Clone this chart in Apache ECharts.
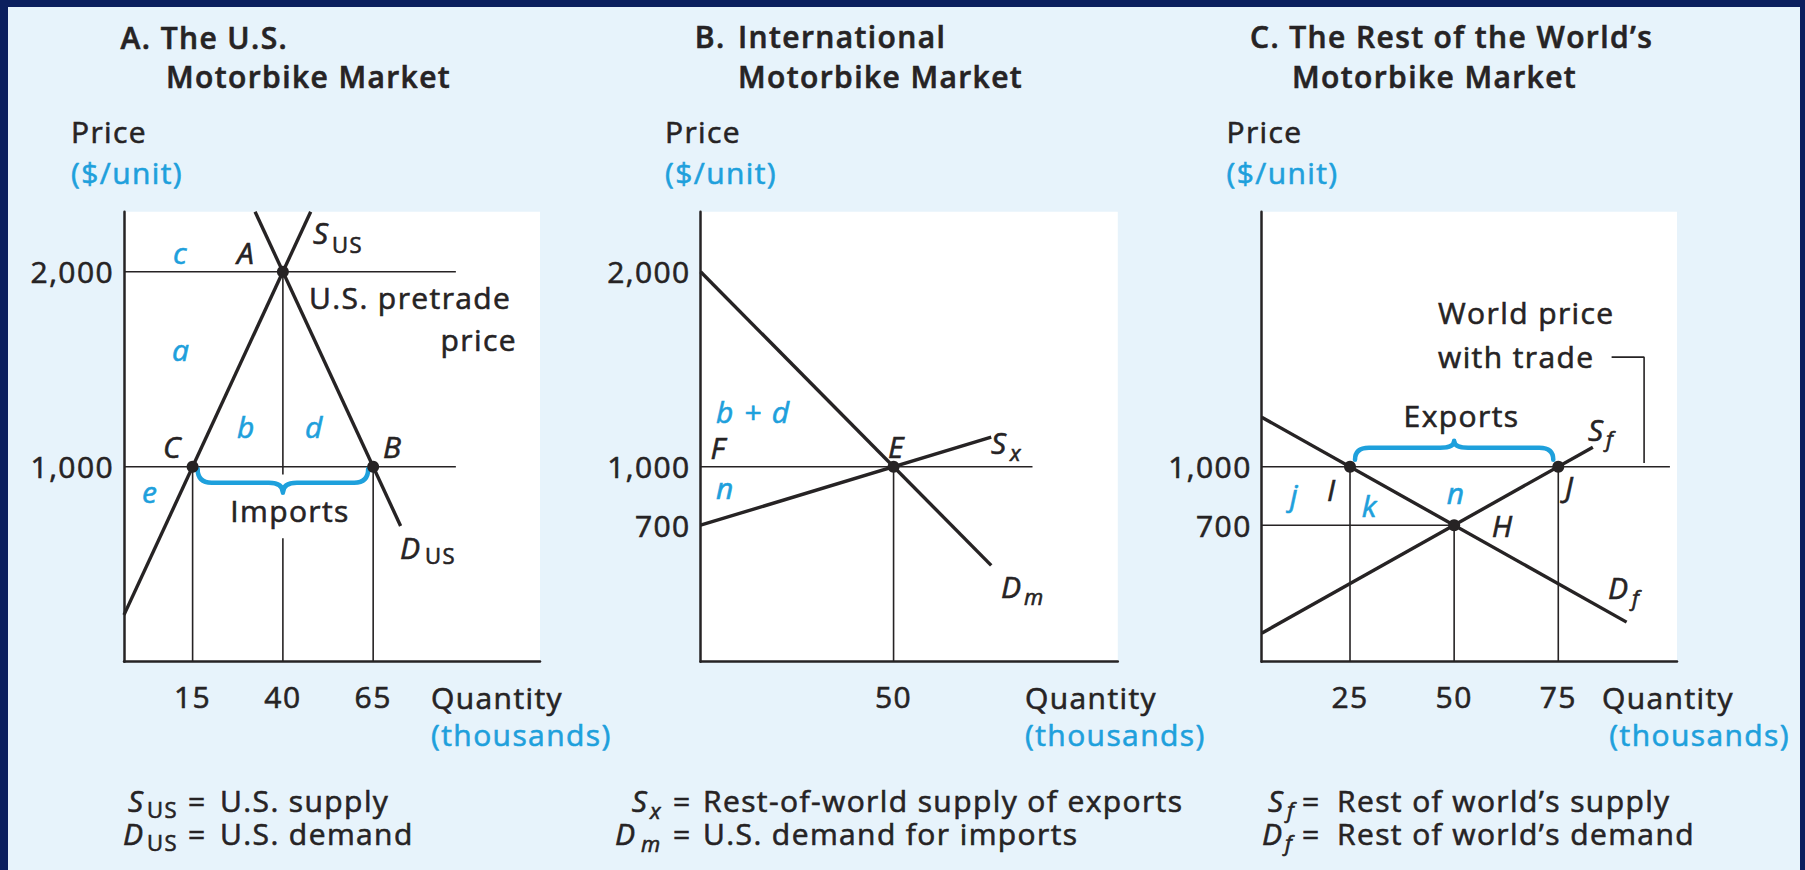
<!DOCTYPE html>
<html>
<head>
<meta charset="utf-8">
<script src="https://cdn.jsdelivr.net/npm/echarts@6.0.0/dist/echarts.min.js"></script>
<style>
html, body { margin: 0; padding: 0; background: #0b1f5e; }
#chart { width: 1805px; height: 870px; }
#chart text { letter-spacing: 1.4px; }
</style>
</head>
<body>
<div id="chart"></div>
<script>
// ---- data (quantity in thousands, price in $/unit) ----
// A. U.S. market
const usSupply = [[-4, 240], [47.7, 2308]];
const usDemand = [[32.3, 2308], [72.6, 696]];
const usPoints = [[40, 2000], [15, 1000], [65, 1000]];
const usGuides = [
  [[-4, 2000], [87.9, 2000]],
  [[-4, 1000], [87.9, 1000]],
  [[15, 1000], [15, 0]],
  [[40, 2000], [40, 960]],
  [[40, 633], [40, 0]],
  [[65, 1000], [65, 0]]
];
const usBrace = [15, 65, 1000];
const usQtyTicks = [15, 40, 65];
const usPriceTicks = [1000, 2000];

// B. international market
const importDemand = [[0, 2000], [75.3, 494]];
const exportSupply = [[0, 700], [75.3, 1152]];
const intlPoints = [[50, 1000]];
const intlGuides = [
  [[0, 1000], [86, 1000]],
  [[50, 1000], [50, 0]]
];
const intlQtyTicks = [50];
const intlPriceTicks = [700, 1000, 2000];

// C. rest of the world
const rowDemand = [[3.8, 1254], [91.4, 203]];
const rowSupply = [[3.8, 146], [83.3, 1100]];
const rowPoints = [[25, 1000], [50, 700], [75, 1000]];
const rowGuides = [
  [[3.8, 1000], [101.8, 1000]],
  [[3.8, 700], [50, 700]],
  [[25, 1000], [25, 0]],
  [[50, 700], [50, 0]],
  [[75, 1000], [75, 0]],
  [[87.8, 1562], [95.6, 1562], [95.6, 1019]]
];
const rowBrace = [25, 75, 1000];
const rowQtyTicks = [25, 50, 75];
const rowPriceTicks = [700, 1000];

// ---- styling ----
const INK = '#262324';
const BLUE = '#1ea0dc';
const FONT = '"Open Sans", sans-serif';

const grids = [
  { left: 124, top: 211.7, width: 416, height: 450 },
  { left: 700.6, top: 211.7, width: 417.2, height: 450 },
  { left: 1261.7, top: 211.7, width: 415.3, height: 450 }
];
const xRanges = [[-4, 111.2], [0, 108.1], [3.8, 103.5]];
const xTicks = [usQtyTicks, intlQtyTicks, rowQtyTicks];
const yTicks = [usPriceTicks, intlPriceTicks, rowPriceTicks];

function line(panel, data, width, z) {
  return {
    type: 'line', xAxisIndex: panel, yAxisIndex: panel, data: data,
    symbol: 'none', silent: true, z: z, animation: false,
    lineStyle: { color: INK, width: width }
  };
}
function dots(panel, data) {
  return {
    type: 'scatter', xAxisIndex: panel, yAxisIndex: panel, data: data,
    symbolSize: 12, silent: true, z: 5, animation: false,
    itemStyle: { color: INK, opacity: 1 }
  };
}
// curly brace between two quantities at one price; dir 1 = points down
function brace(panel, item, shape) {
  return {
    type: 'custom', xAxisIndex: panel, yAxisIndex: panel, data: [item],
    silent: true, z: 4, animation: false, clip: false,
    renderItem: function (params, api) {
      const a = api.coord([api.value(0), api.value(2)]);
      const b = api.coord([api.value(1), api.value(2)]);
      const d = shape.dir, r = 14;
      const x1 = a[0] + 5, x2 = b[0] - 5, xm = (x1 + x2) / 2;
      const ye = a[1] + d * shape.end, yf = a[1] + d * shape.flat, yt = a[1] + d * shape.tip;
      const p = `M${x1},${ye} Q${x1},${yf} ${x1 + r},${yf} L${xm - r},${yf} Q${xm},${yf} ${xm},${yt} ` +
        `Q${xm},${yf} ${xm + r},${yf} L${x2 - r},${yf} Q${x2},${yf} ${x2},${ye}`;
      return {
        type: 'path', shape: { pathData: p },
        style: { stroke: BLUE, fill: 'none', lineWidth: 4.5, lineCap: 'round', lineJoin: 'round' }
      };
    }
  };
}

// text helper: y is the baseline
function t(text, x, y, o) {
  o = o || {};
  const size = o.size || 30;
  const color = o.blue ? BLUE : INK;
  return {
    type: 'text', x: x, y: y - 0.36 * size, silent: true, z: 10,
    style: {
      text: text,
      fill: color,
      stroke: color,
      lineWidth: 0.6,
      font: (o.italic ? 'italic ' : '') + (o.bold ? '600 ' : '') + size + 'px ' + FONT,
      textAlign: o.align || 'left',
      textVerticalAlign: 'middle'
    }
  };
}
const it = { italic: true };
const bit = { italic: true, blue: true };
const sub = { size: 22 };
const isub = { size: 22, italic: true };
const bold = { bold: true };
const blue = { blue: true };

// footnote baselines
const NOTE1 = 811, NOTE2 = 844;

const labels = [
  // panel A
  t('A. The U.S.', 120.6, 48, bold),
  t('Motorbike Market', 166, 87.5, bold),
  t('Price', 71, 142.7),
  t('($/unit)', 71, 183, blue),
  t('c', 173, 263, bit),
  t('A', 237, 263, it),
  t('S', 313, 243, it), t('US', 332, 252, sub),
  t('U.S. pretrade', 309, 308),
  t('price', 517, 350, { align: 'right' }),
  t('a', 172, 360, bit),
  t('b', 237, 437, bit),
  t('d', 305, 437, bit),
  t('C', 163, 457, it),
  t('B', 383, 457, it),
  t('e', 142, 502, bit),
  t('Imports', 290, 521, { align: 'center' }),
  t('D', 400, 558, it), t('US', 425, 563, sub),
  t('Quantity', 431, 708),
  t('(thousands)', 431, 745, blue),
  t('S', 128, NOTE1, it), t('US', 147, NOTE1 + 6, sub), t('=', 188, NOTE1), t('U.S. supply', 220, NOTE1),
  t('D', 123, NOTE2, it), t('US', 147, NOTE2 + 6, sub), t('=', 188, NOTE2), t('U.S. demand', 220, NOTE2),
  // panel B
  t('B.', 694.7, 47, bold), t('International', 738, 47, bold),
  t('Motorbike Market', 738, 87.5, bold),
  t('Price', 665, 142.7),
  t('($/unit)', 665, 183, blue),
  t('b + d', 716, 422.7, bit),
  t('F', 710.5, 458, it),
  t('E', 888, 457, it),
  t('S', 991, 453, it), t('x', 1010, 460, isub),
  t('n', 716, 498, bit),
  t('D', 1001, 597, it), t('m', 1024, 604, isub),
  t('Quantity', 1025, 708),
  t('(thousands)', 1025, 745, blue),
  t('S', 631.7, NOTE1, it), t('x', 650, NOTE1 + 7, isub), t('=', 673, NOTE1), t('Rest-of-world supply of exports', 703, NOTE1),
  t('D', 615, NOTE2, it), t('m', 641, NOTE2 + 7, isub), t('=', 673, NOTE2), t('U.S. demand for imports', 703, NOTE2),
  // panel C
  t('C. The Rest of the World\u2019s', 1250, 47, bold),
  t('Motorbike Market', 1292, 87.5, bold),
  t('Price', 1226.5, 142.7),
  t('($/unit)', 1226.5, 183, blue),
  t('World price', 1438, 323),
  t('with trade', 1438, 367),
  t('Exports', 1461.5, 426.7, { align: 'center' }),
  t('S', 1588, 440, it), t('f', 1606, 446, isub),
  t('j', 1290, 505, bit),
  t('I', 1327, 500, it),
  t('k', 1361.7, 516.7, bit),
  t('n', 1446.7, 503, bit),
  t('J', 1565, 497, it),
  t('H', 1491.7, 536.7, it),
  t('D', 1608, 598, it), t('f', 1632, 605, isub),
  t('Quantity', 1602, 708),
  t('(thousands)', 1790, 745, { blue: true, align: 'right' }),
  t('S', 1268, NOTE1, it), t('f', 1287, NOTE1 + 6, isub), t('=', 1302, NOTE1), t('Rest of world\u2019s supply', 1337, NOTE1),
  t('D', 1262, NOTE2, it), t('f', 1285, NOTE2 + 6, isub), t('=', 1302, NOTE2), t('Rest of world\u2019s demand', 1337, NOTE2)
];

const axisText = {
  color: INK, fontSize: 30, fontFamily: FONT,
  textBorderColor: INK, textBorderWidth: 0.6
};

const option = {
  backgroundColor: '#0b1f5e',
  animation: false,
  grid: grids.map(g => Object.assign({
    show: true, backgroundColor: '#ffffff', borderWidth: 0, containLabel: false, outerBoundsMode: 'none'
  }, g)),
  xAxis: xRanges.map((r, i) => ({
    type: 'value', gridIndex: i, min: r[0], max: r[1],
    axisLine: { onZero: false, lineStyle: { color: INK, width: 2.5 } },
    axisTick: { show: false },
    splitLine: { show: false },
    axisLabel: Object.assign({ customValues: xTicks[i], margin: 20 }, axisText)
  })),
  yAxis: yTicks.map((ticks, i) => ({
    type: 'value', gridIndex: i, min: 0, max: 2308,
    axisLine: { show: true, onZero: false, lineStyle: { color: INK, width: 2.5 } },
    axisTick: { show: false },
    splitLine: { show: false },
    axisLabel: Object.assign({
      customValues: ticks, margin: 10,
      formatter: v => v.toLocaleString('en-US')
    }, axisText)
  })),
  graphic: [
    { type: 'rect', z: -1, silent: true, shape: { x: 8, y: 7, width: 1792, height: 863 }, style: { fill: '#e7f3fb' } }
  ].concat(labels),
  series: [
    ...usGuides.map(g => line(0, g, 1.6, 2)),
    line(0, usSupply, 3.4, 3),
    line(0, usDemand, 3.4, 3),
    dots(0, usPoints),
    brace(0, usBrace, { dir: 1, end: 2, flat: 16, tip: 26 }),

    ...intlGuides.map(g => line(1, g, 1.6, 2)),
    line(1, importDemand, 3.4, 3),
    line(1, exportSupply, 3.4, 3),
    dots(1, intlPoints),

    ...rowGuides.map(g => line(2, g, 1.6, 2)),
    line(2, rowDemand, 3.4, 3),
    line(2, rowSupply, 3.4, 3),
    dots(2, rowPoints),
    brace(2, rowBrace, { dir: -1, end: 7, flat: 19, tip: 26 })
  ]
};

const chart = echarts.init(document.getElementById('chart'), null, { renderer: 'svg' });
chart.setOption(option);
</script>
</body>
</html>
